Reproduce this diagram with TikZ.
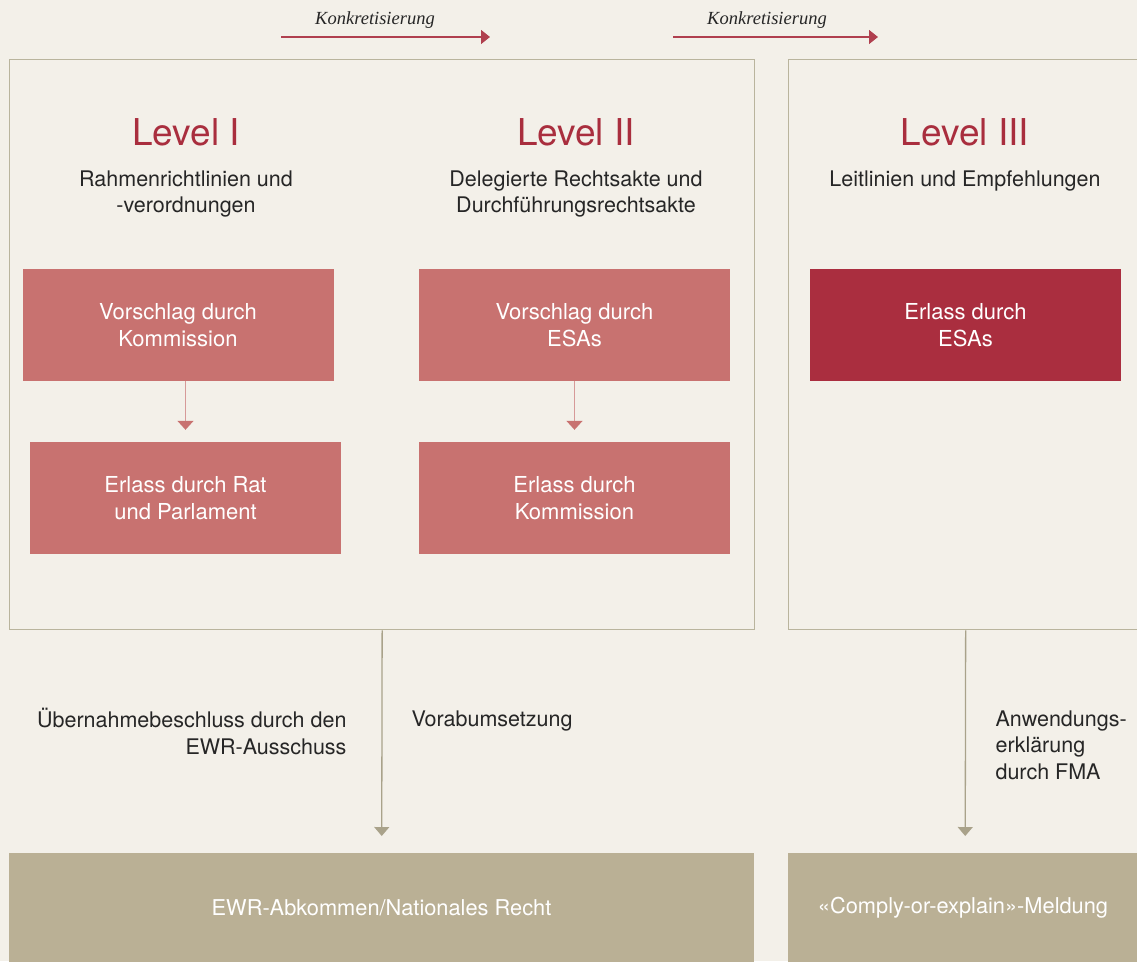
\documentclass[tikz,border=0pt]{standalone}
\usepackage{fontspec}
\setmainfont{TeX Gyre Heros}
\newfontfamily\konkfont{Liberation Serif}
\usetikzlibrary{arrows.meta}
\definecolor{bg}{HTML}{F3F0E9}
\definecolor{redtxt}{HTML}{A92E3E}
\definecolor{pinkbox}{HTML}{C87270}
\definecolor{darkred}{HTML}{AA2E3F}
\definecolor{tan}{HTML}{BAB095}
\definecolor{frame}{HTML}{B9B49D}
\definecolor{toparrow}{HTML}{B0404F}
\definecolor{tanarrow}{HTML}{A9A28A}
\definecolor{pinkline}{HTML}{D69A98}
\tikzset{
  body/.style={font=\fontsize{21.5}{26.5}\selectfont, text=black!85, align=center},
  leveltitle/.style={font=\fontsize{37}{42}\selectfont, text=redtxt},
  rbox/.style={fill=pinkbox, minimum width=311pt, minimum height=112pt, inner sep=0pt,
    text=white, align=center, font=\fontsize{22}{27}\selectfont},
  dbox/.style={rbox, fill=darkred},
  panel/.style={draw=frame, line width=1.3pt, fill=bg},
  tbox/.style={fill=tan, inner sep=0pt, text=white, font=\fontsize{21.8}{26}\selectfont},
  konk/.style={font=\konkfont\itshape\fontsize{18.5}{20}\selectfont, text=black!85},
  toparr/.style={draw=toparrow, line width=1.3pt, -{Triangle[length=9pt,width=14pt]}},
  pinkarr/.style={draw=pinkline, line width=1.5pt, -{Triangle[length=9pt,width=16pt,color=pinkbox]}},
  tanarr/.style={draw=tanarrow, line width=1.3pt, -{Triangle[length=9pt,width=15pt]}},
}
\begin{document}
\begin{tikzpicture}[x=1pt,y=-1pt]
\useasboundingbox (0,0) rectangle (1137,961);
\clip (0,0) rectangle (1137,961);
\fill[bg] (0,0) rectangle (1137,961);

% top arrows
\coordinate (ka1) at (281,37);
\coordinate (kb1) at (490,37);
\coordinate (ka2) at (673,37);
\coordinate (kb2) at (878,37);
\draw[toparr] (ka1) -- (kb1);
\draw[toparr] (ka2) -- (kb2);
\node[konk] (k1) at (375,20) {Konkretisierung};
\node[konk] (k2) at (767,20) {Konkretisierung};

% panels
\node[panel, minimum width=745pt, minimum height=570pt, inner sep=0pt, anchor=north west] (p1) at (9,59) {};
\node[panel, minimum width=354pt, minimum height=570pt, inner sep=0pt, anchor=north west] (p2) at (788,59) {};

% titles
\node[leveltitle] (l1) at (186,132) {Level I};
\node[leveltitle] (l2) at (576,132) {Level II};
\node[leveltitle] (l3) at (965,132) {Level III};
\node[body] (d1) at (186,194) {Rahmenrichtlinien und\\-verordnungen};
\node[body] (d2) at (576,194) {Delegierte Rechtsakte und\\Durchführungsrechtsakte};
\node[body] (d3) at (965,181) {Leitlinien und Empfehlungen};

% boxes
\node[rbox] (vk) at (178,325) {Vorschlag durch\\Kommission};
\node[rbox] (er) at (185.5,498) {Erlass durch Rat\\und Parlament};
\node[rbox] (ve) at (574.5,325) {Vorschlag durch\\ESAs};
\node[rbox] (ek) at (574.5,498) {Erlass durch\\Kommission};
\node[dbox] (ee) at (965.5,325) {Erlass durch\\ESAs};

\draw[pinkarr, shorten >=12pt] (vk.south -| er.north) -- (er.north);
\draw[pinkarr, shorten >=12pt] (ve.south) -- (ek.north);

% bottom boxes
\node[tbox, minimum width=745pt, minimum height=120pt, anchor=north west] (b1) at (9,853) {};
\node[tbox, minimum width=354pt, minimum height=120pt, anchor=north west] (b2) at (788,853) {};
\node[tbox, text=white] (t1) at (381.5,908) {EWR-Abkommen/Nationales Recht};
\node[tbox, text=white] (t2) at (963,908) {«Comply-or-explain»-Meldung};

\draw[tanarr, shorten >=17pt] (p1.south) -- (b1.north);
\draw[tanarr, shorten >=17pt] (p2.south) -- (b2.north);

% labels
\node[body, align=right, anchor=north east] (u1) at (350,705) {Übernahmebeschluss durch den\\EWR-Ausschuss};
\node[body, align=left, anchor=north west] (u2) at (408,707) {Vorabumsetzung};
\node[body, align=left, anchor=north west] (u3) at (992,707) {Anwendungs-\\erklärung\\durch FMA};
\end{tikzpicture}
\end{document}
